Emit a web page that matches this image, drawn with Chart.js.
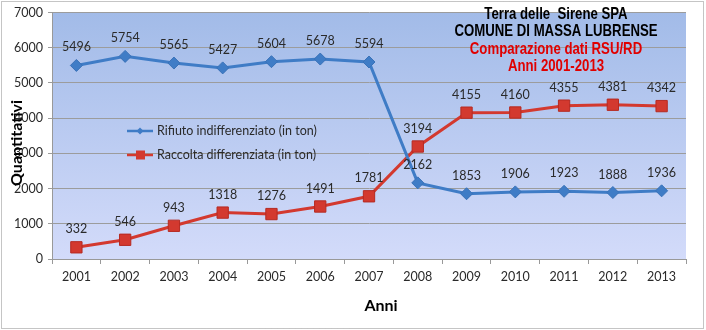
<!DOCTYPE html>
<html>
<head>
<meta charset="utf-8">
<script src="https://cdn.jsdelivr.net/npm/chart.js@4.4.1/dist/chart.umd.min.js"></script>
<style>
html,body{margin:0;padding:0;background:#fff;}
canvas{display:block;}
</style>
</head>
<body>
<canvas id="c" width="706" height="330"></canvas>
<script>
const years = ['2001','2002','2003','2004','2005','2006','2007','2008','2009','2010','2011','2012','2013'];
const indifferenziato = [5496,5754,5565,5427,5604,5678,5594,2162,1853,1906,1923,1888,1936];
const differenziata = [332,546,943,1318,1276,1491,1781,3194,4155,4160,4355,4381,4342];
const seriesNames = ['Rifiuto indifferenziato (in ton)','Raccolta differenziata (in ton)'];
const titleLines = ['Terra delle  Sirene SPA','COMUNE DI MASSA LUBRENSE','Comparazione dati RSU/RD','Anni 2001-2013'];
const xTitle = 'Anni';
const yTitle = 'Quantitativi';

const BLUE = '#3f7cc6';
const RED = '#d3392f';
const FONT = "Lato, 'Open Sans', sans-serif";
const NARROW = "'Liberation Sans Narrow', 'Arial Narrow', 'Liberation Sans', sans-serif";

const decor = {
  id: 'decor',
  beforeDraw(chart) {
    const {ctx, chartArea: a} = chart;
    ctx.save();
    ctx.fillStyle = '#fff';
    ctx.fillRect(0, 0, chart.width, chart.height);
    const g = ctx.createLinearGradient(0, a.top, 0, a.bottom);
    g.addColorStop(0, '#a2bbe8');
    g.addColorStop(1, '#d3dbfa');
    ctx.fillStyle = g;
    ctx.fillRect(a.left, a.top, a.right - a.left, a.bottom - a.top);
    ctx.restore();
  },
  afterDatasetsDraw(chart) {
    const {ctx} = chart;
    ctx.save();
    ctx.font = '12.5px ' + FONT;
    ctx.fillStyle = '#2a2a2a';
    ctx.textAlign = 'center';
    ctx.textBaseline = 'middle';
    chart.data.datasets.forEach((ds, i) => {
      const meta = chart.getDatasetMeta(i);
      meta.data.forEach((pt, j) => {
        ctx.fillText(String(ds.data[j]), pt.x, pt.y - 18);
      });
    });
    ctx.restore();
  },
  afterDraw(chart) {
    const {ctx} = chart;
    ctx.save();
    // legend
    const lx = 127, items = [{y:131, c:BLUE, s:'d'}, {y:155, c:RED, s:'s'}];
    items.forEach((it, i) => {
      ctx.strokeStyle = it.c; ctx.lineWidth = 2.5;
      ctx.beginPath(); ctx.moveTo(lx, it.y); ctx.lineTo(lx + 26, it.y); ctx.stroke();
      ctx.fillStyle = it.c;
      if (it.s === 'd') {
        ctx.beginPath();
        ctx.moveTo(lx + 13, it.y - 3.5); ctx.lineTo(lx + 16.5, it.y);
        ctx.lineTo(lx + 13, it.y + 3.5); ctx.lineTo(lx + 9.5, it.y); ctx.closePath(); ctx.fill();
      } else {
        ctx.fillRect(lx + 9, it.y - 4.5, 9, 9);
      }
      ctx.fillStyle = '#2a2a2a';
      ctx.font = '12.5px ' + FONT;
      ctx.textAlign = 'left'; ctx.textBaseline = 'middle';
      ctx.fillText(seriesNames[i], lx + 30, it.y);
    });
    // title (condensed horizontally to mimic a narrow font)
    ctx.save();
    const tx = 556, sx = 0.8;
    ctx.translate(tx, 0);
    ctx.scale(sx, 1);
    ctx.textAlign = 'center'; ctx.textBaseline = 'middle';
    ctx.font = 'bold 16.5px ' + NARROW;
    ctx.fillStyle = '#000';
    ctx.fillText(titleLines[0], 0, 14);
    ctx.fillText(titleLines[1], 0, 31);
    ctx.fillStyle = '#e00000';
    ctx.fillText(titleLines[2], 0, 49);
    ctx.fillText(titleLines[3], 0, 66);
    ctx.restore();
    // axis titles
    ctx.textAlign = 'center'; ctx.textBaseline = 'middle';
    ctx.fillStyle = '#000';
    ctx.font = 'bold 16px ' + FONT;
    ctx.fillText(xTitle, 381, 306);
    ctx.save();
    ctx.translate(17, 143);
    ctx.rotate(-Math.PI / 2);
    ctx.fillText(yTitle, 0, 0);
    ctx.restore();
    // outer dotted border
    ctx.strokeStyle = '#8a8a8a';
    ctx.lineWidth = 1;
    ctx.setLineDash([1, 1]);
    ctx.strokeRect(1.5, 1.5, 702, 327);
    ctx.restore();
  }
};

new Chart(document.getElementById('c'), {
  type: 'line',
  data: {
    labels: years,
    datasets: [
      {label: seriesNames[0], data: indifferenziato, borderColor: BLUE, backgroundColor: BLUE,
       borderWidth: 3, pointStyle: 'rectRot', pointRadius: 6, pointBorderWidth: 1, pointBorderColor: '#3a72b8', tension: 0},
      {label: seriesNames[1], data: differenziata, borderColor: RED, backgroundColor: RED,
       borderWidth: 3, pointStyle: 'rect', pointRadius: 8, pointBorderWidth: 1, pointBorderColor: '#b52a22', tension: 0}
    ]
  },
  options: {
    responsive: false,
    animation: false,
    devicePixelRatio: 1,
    layout: {padding: {top: 11, right: 20, left: 0, bottom: 0}},
    plugins: {legend: {display: false}, tooltip: {enabled: false}, title: {display: false}},
    scales: {
      x: {
        offset: true,
        grid: {display: true, drawOnChartArea: false, offset: true, tickLength: 5, color: '#999'},
        border: {color: '#999'},
        ticks: {color: '#2a2a2a', font: {family: FONT, size: 12.5}, padding: 5, maxRotation: 0},
        afterFit(s) { s.height = 71; }
      },
      y: {
        min: 0, max: 7000,
        grid: {color: '#9c9c9c', tickLength: 4},
        border: {color: '#999'},
        ticks: {stepSize: 1000, color: '#2a2a2a', font: {family: FONT, size: 12.5}, padding: 5,
                callback: (v) => String(v)},
        afterFit(s) { s.width = 52; }
      }
    }
  },
  plugins: [decor]
});
</script>
</body>
</html>
